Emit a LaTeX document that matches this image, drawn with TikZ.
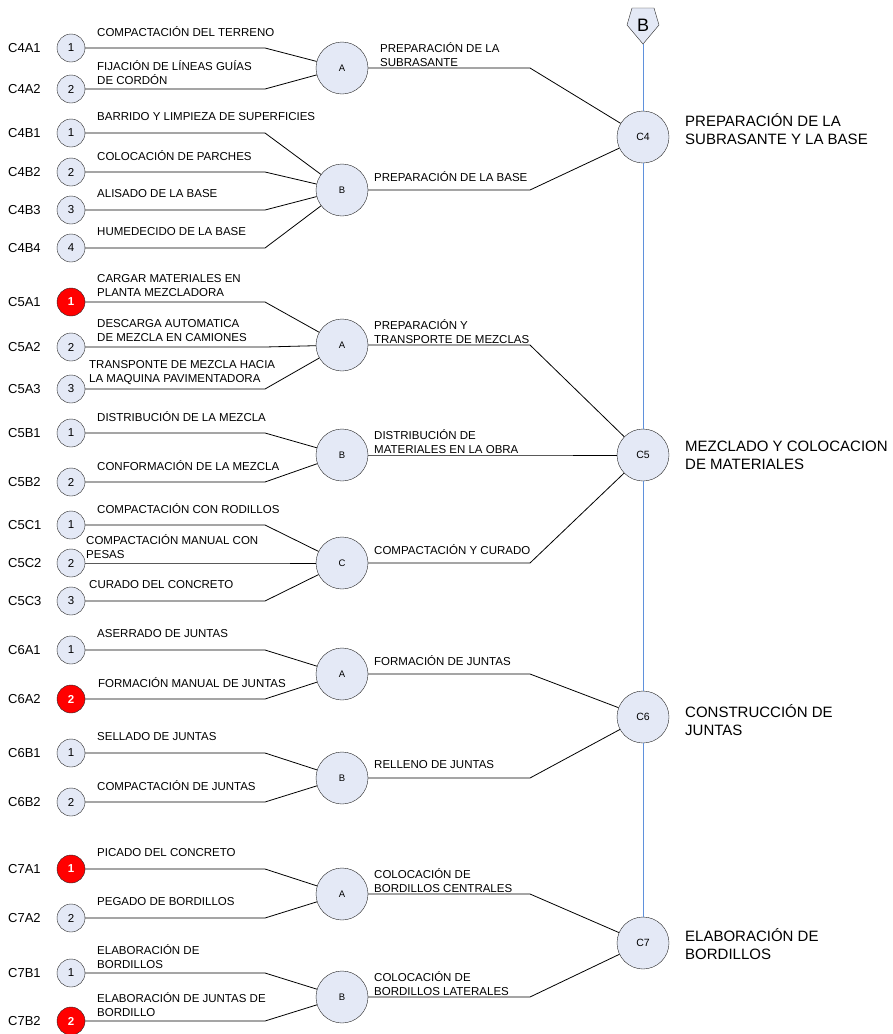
\documentclass[tikz,border=0pt]{standalone}
\usepackage{fontspec}
\setmainfont{Liberation Sans}
\usetikzlibrary{positioning}

\definecolor{relleno}{RGB}{228,233,246}
\definecolor{azuleje}{RGB}{95,145,220}

\tikzset{
  act/.style={circle, draw=black!85, fill=relleno, minimum size=28pt, inner sep=0pt,
    font=\fontsize{11.5}{11.5}\selectfont},
  actroja/.style={act, fill=red, text=white, font=\fontsize{11.5}{11.5}\selectfont\bfseries},
  grupo/.style={circle, draw=black!85, fill=relleno, minimum size=52pt, inner sep=0pt,
    font=\fontsize{9.5}{9.5}\selectfont},
  capitulo/.style={grupo, font=\fontsize{10.5}{10.5}\selectfont},
  codigo/.style={anchor=west, inner sep=0pt, font=\fontsize{13}{13}\selectfont},
  rotulo/.style={anchor=west, align=left, inner sep=0pt, font=\fontsize{11.5}{14}\selectfont},
  titulo/.style={anchor=west, align=left, inner sep=0pt, font=\fontsize{15}{18}\selectfont},
  linea/.style={draw, line width=0.8pt},
  lineaeje/.style={draw=azuleje, line width=1pt}
}

\begin{document}
\begin{tikzpicture}[x=1pt,y=-1pt]
  \fill[white] (0,0) rectangle (893,1034);
  \useasboundingbox (0,0) rectangle (893,1034);

  % codos de las lineas
  \coordinate (codo1) at (265,0);
  \coordinate (codo2) at (530,0);

  % capitulos
  \node[capitulo] (c4) at (643,137) {C4};
  \node[capitulo] (c5) at (643,455) {C5};
  \node[capitulo] (c6) at (643,717) {C6};
  \node[capitulo] (c7) at (643,943) {C7};

  \node[titulo] (c4-tit) at (685,129) {PREPARACIÓN DE LA\\SUBRASANTE Y LA BASE};
  \node[titulo] (c5-tit) at (685,455) {MEZCLADO Y COLOCACION\\DE MATERIALES};
  \node[titulo] (c6-tit) at (685,720) {CONSTRUCCIÓN DE\\JUNTAS};
  \node[titulo] (c7-tit) at (685,944) {ELABORACIÓN DE\\BORDILLOS};

  % referencia B
  \draw[fill=relleno, draw=black!85] (632,8) -- (654,8) -- (659,25) -- (643,44) -- (627,25) -- cycle;
  \node[font=\fontsize{18}{18}\selectfont, inner sep=0pt] (ref) at (643,25) {B};
  \coordinate (ref-pie) at (643,44);
  \draw[lineaeje] (ref-pie) -- (c4) (c4) -- (c5) (c5) -- (c6) (c6) -- (c7);

  % grupos: nombre/y/letra/x del texto/texto/capitulo
  \foreach \g/\y/\l/\xt/\t/\c in {
    c4a/68/A/380/{PREPARACIÓN DE LA\\SUBRASANTE}/c4,
    c4b/190/B/374/{PREPARACIÓN DE LA BASE}/c4,
    c5a/345/A/374/{PREPARACIÓN Y\\TRANSPORTE DE MEZCLAS}/c5,
    c5b/455/B/374/{DISTRIBUCIÓN DE\\MATERIALES EN LA OBRA}/c5,
    c5c/563/C/374/{COMPACTACIÓN Y CURADO}/c5,
    c6a/674/A/374/{FORMACIÓN DE JUNTAS}/c6,
    c6b/778/B/374/{RELLENO DE JUNTAS}/c6,
    c7a/894/A/374/{COLOCACIÓN DE\\BORDILLOS CENTRALES}/c7,
    c7b/997/B/374/{COLOCACIÓN DE\\BORDILLOS LATERALES}/c7}{
    \node[grupo] (\g) at (342,\y) {\l};
    \node[rotulo] (\g-txt) at (\xt,\y-13) {\t};
    \draw[linea] (\g) -- (\g -| codo2) -- (\c);
  }

  % actividades: nombre/y/codigo/numero/estilo/x del texto/texto/grupo
  \foreach \h/\y/\cod/\n/\e/\xt/\t/\g in {
    c4a1/48/C4A1/1/act/97/{COMPACTACIÓN DEL TERRENO}/c4a,
    c4a2/89/C4A2/2/act/97/{FIJACIÓN DE LÍNEAS GUÍAS\\DE CORDÓN}/c4a,
    c4b1/133/C4B1/1/act/97/{BARRIDO Y LIMPIEZA DE SUPERFICIES}/c4b,
    c4b2/172/C4B2/2/act/97/{COLOCACIÓN DE PARCHES}/c4b,
    c4b3/210/C4B3/3/act/97/{ALISADO DE LA BASE}/c4b,
    c4b4/248/C4B4/4/act/97/{HUMEDECIDO DE LA BASE}/c4b,
    c5a1/302/C5A1/1/actroja/97/{CARGAR MATERIALES EN\\PLANTA MEZCLADORA}/c5a,
    c5a2/347/C5A2/2/act/97/{DESCARGA AUTOMATICA\\DE MEZCLA EN CAMIONES}/c5a,
    c5a3/389/C5A3/3/act/89/{TRANSPONTE DE MEZCLA HACIA\\LA MAQUINA PAVIMENTADORA}/c5a,
    c5b1/433/C5B1/1/act/97/{DISTRIBUCIÓN DE LA MEZCLA}/c5b,
    c5b2/482/C5B2/2/act/97/{CONFORMACIÓN DE LA MEZCLA}/c5b,
    c5c1/525/C5C1/1/act/97/{COMPACTACIÓN CON RODILLOS}/c5c,
    c5c2/563/C5C2/2/act/86/{COMPACTACIÓN MANUAL CON\\PESAS}/c5c,
    c5c3/601/C5C3/3/act/89/{CURADO DEL CONCRETO}/c5c,
    c6a1/650/C6A1/1/act/97/{ASERRADO DE JUNTAS}/c6a,
    c6a2/699/C6A2/2/actroja/98/{FORMACIÓN MANUAL DE JUNTAS}/c6a,
    c6b1/753/C6B1/1/act/97/{SELLADO DE JUNTAS}/c6b,
    c6b2/802/C6B2/2/act/97/{COMPACTACIÓN DE JUNTAS}/c6b,
    c7a1/869/C7A1/1/actroja/97/{PICADO DEL CONCRETO}/c7a,
    c7a2/918/C7A2/2/act/97/{PEGADO DE BORDILLOS}/c7a,
    c7b1/973/C7B1/1/act/97/{ELABORACIÓN DE\\BORDILLOS}/c7b,
    c7b2/1021/C7B2/2/actroja/97/{ELABORACIÓN DE JUNTAS DE\\BORDILLO}/c7b}{
    \node[\e] (\h) at (71,\y) {\n};
    \node[codigo] (\h-cod) at (8,\y) {\cod};
    \node[rotulo] (\h-txt) at (\xt,\y-16) {\t};
    \draw[linea] (\h) -- (\h -| codo1) -- (\g);
  }
\end{tikzpicture}
\end{document}
